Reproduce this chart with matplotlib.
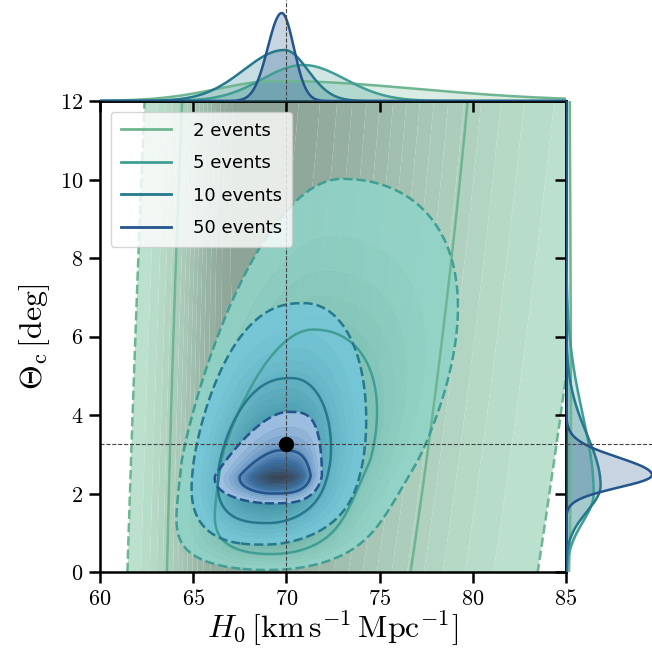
import numpy as np
import matplotlib
matplotlib.use('Agg')
import matplotlib.pyplot as plt
from matplotlib.colors import LinearSegmentedColormap
from matplotlib.lines import Line2D
from matplotlib.ticker import FuncFormatter

plt.rcParams['mathtext.fontset'] = 'cm'

labels = ['2 events', '5 events', '10 events', '50 events']
line_colors = ['#6eb691', '#409e94', '#26798c', '#23548c']
fill_colors = [['#b4dec9', '#7b9686'],
               ['#92d6c9', '#4d9b95'],
               ['#76c8dc', '#2a7d96'],
               ['#adc7ea', '#3e6ba5', '#3a3c4e']]

# 2D posterior shapes (H0 in km/s/Mpc, theta_c in deg)
mode_h0 = [68.17, 70.1, 69.5, 69.4]
mode_th = [13.0, 2.8, 2.7, 2.45]
shear = [0.09, 0.4, 0.35, 0.4]
grow_lo = [0.0, 0.03, 0.03, 0.0]
grow_hi = [0.008, 0.12, 0.03, 0.0]
h0_lo_scale = [2.52, 2.42, 2.25, 1.2]
h0_lo_pow = [1.1, 1.04, 1.29, 0.905]
h0_hi_scale = [7.75, 2.92, 1.86, 1.5]
h0_hi_pow = [1.0, 1.04, 1.0, 1.75]
th_lo_scale = [21.7, 2.04, 1.1, 0.307]
th_lo_pow = [1.0, 3.0, 1.495, 1.086]
th_hi_scale = [21.7, 1.75, 1.313, 0.293]
th_hi_pow = [1.0, 0.632, 0.778, 0.522]

# 1D marginals (peak heights in pixels of the marginal panels)
top_center = [69.5, 70.9, 69.9, 69.75]
top_lo = [3.2, 2.2, 2.2, 0.75]
top_hi = [7.5, 2.25, 1.25, 0.65]
top_peak = [20, 36, 51, 88]
side_center = [3.0, 2.0, 2.2, 2.47]
side_lo = [3.0, 0.73, 0.66, 0.32]
side_hi = [12.0, 2.0, 1.3, 0.45]
side_peak = [5, 28, 35, 87]

h0_true = 70.0
theta_true = 3.27

z_levels = [1.515, 2.448]  # 68% and 95% contours


def side_z(d, a_lo, p_lo, a_hi, p_hi):
    return np.where(d < 0, (np.abs(d) / a_lo) ** p_lo, (np.abs(d) / a_hi) ** p_hi)


def split_curve(v, c, s_lo, s_hi, peak):
    s = np.where(v < c, s_lo, s_hi)
    return peak * np.exp(-0.5 * ((v - c) / s) ** 2)


fig = plt.figure(figsize=(6.52, 6.56), dpi=100)
ax = fig.add_axes([100 / 652, 84 / 656, 466 / 652, 471 / 656])
ax_top = fig.add_axes([100 / 652, 555 / 656, 466 / 652, 101 / 656], sharex=ax)
ax_right = fig.add_axes([566 / 652, 84 / 656, 86 / 652, 471 / 656], sharey=ax)

xg = np.linspace(40, 115, 900)
yg = np.linspace(0, 30, 700)
X, Y = np.meshgrid(xg, yg)

fields = []
for i in range(4):
    dy = Y - mode_th[i]
    zy = side_z(dy, th_lo_scale[i], th_lo_pow[i], th_hi_scale[i], th_hi_pow[i])
    c = mode_h0[i] + shear[i] * dy
    dx = X - c
    w = np.where(dx < 0, 1 + grow_lo[i] * dy, 1 + grow_hi[i] * dy)
    w = np.clip(w, 0.3, None)
    zx = side_z(dx / w, h0_lo_scale[i], h0_lo_pow[i], h0_hi_scale[i], h0_hi_pow[i])
    fields.append(np.sqrt(zx ** 2 + zy ** 2))

thr = np.exp(-0.5 * z_levels[1] ** 2)
for i in range(4):
    dens = np.exp(-0.5 * fields[i] ** 2)
    cmap = LinearSegmentedColormap.from_list('c%d' % i, fill_colors[i])
    ax.contourf(X, Y, dens, levels=np.linspace(thr, dens.max() + 1e-6, 18),
                cmap=cmap, alpha=0.88, zorder=1 + i, antialiased=True)

for i in range(4):
    ax.contour(X, Y, fields[i], levels=z_levels, colors=line_colors[i],
               linestyles=['solid', 'dashed'], linewidths=1.8, zorder=6)

ax.axvline(h0_true, color='#444444', lw=0.8, ls='--', zorder=7)
ax.axhline(theta_true, color='#444444', lw=0.8, ls='--', zorder=7)
ax.plot(h0_true, theta_true, 'o', color='black', ms=10, zorder=8)

xticks = [60, 65, 70, 75, 80, 85]
yticks = [0, 2, 4, 6, 8, 10, 12]
ax.set_xlim(60, 85)
ax.set_ylim(0, 12)
ax.set_xticks(xticks)
ax.set_yticks(yticks)
fmt = FuncFormatter(lambda v, p: '$%g$' % v)
ax.xaxis.set_major_formatter(fmt)
ax.yaxis.set_major_formatter(fmt)
ax.tick_params(direction='out', length=8, width=1.8, labelsize=16, pad=4)
for s in ax.spines.values():
    s.set_linewidth(1.8)
    s.set_zorder(10)

# inward ticks on the top and right sides
sx = ax.secondary_xaxis('top')
sx.set_xticks(xticks)
sx.tick_params(direction='in', length=8, width=1.8, labeltop=False)
sx.spines['top'].set_linewidth(1.8)
sx.set_zorder(15)
sy = ax.secondary_yaxis('right')
sy.set_yticks(yticks)
sy.tick_params(direction='in', length=8, width=1.8, labelright=False)
sy.spines['right'].set_linewidth(1.8)
sy.set_zorder(15)

ax.set_xlabel(r'$H_0\,[\mathrm{km\,s^{-1}\,Mpc^{-1}}]$', fontsize=23, labelpad=0)
ax.set_ylabel(r'$\Theta_{\mathrm{c}}\,[\mathrm{deg}]$', fontsize=23, labelpad=6)

handles = [Line2D([], [], color=line_colors[i], lw=2.0) for i in range(4)]
leg = ax.legend(handles, labels, loc='upper left', fontsize=13, handlelength=2.8,
                labelspacing=0.8, borderpad=0.55, borderaxespad=0.6, framealpha=0.8,
                edgecolor='#cccccc', handletextpad=1.2)
leg.set_zorder(20)

# marginals
hx = np.linspace(60, 85, 600)
hy = np.linspace(0, 12, 600)
for i in range(4):
    top = split_curve(hx, top_center[i], top_lo[i], top_hi[i], top_peak[i])
    ax_top.fill_between(hx, 0, top, color=line_colors[i], alpha=0.25, lw=0)
    ax_top.plot(hx, top, color=line_colors[i], lw=1.8)
    side = split_curve(hy, side_center[i], side_lo[i], side_hi[i], side_peak[i])
    ax_right.fill_betweenx(hy, 0, side, color=line_colors[i], alpha=0.25, lw=0)
    ax_right.plot(side, hy, color=line_colors[i], lw=1.8)

ax_top.axvline(h0_true, color='#444444', lw=0.8, ls='--')
ax_right.axhline(theta_true, color='#444444', lw=0.8, ls='--')
ax_top.set_ylim(0, 101)
ax_right.set_xlim(0, 87)
for a in (ax_top, ax_right):
    a.axis('off')

fig.savefig('out.png', dpi=100)
